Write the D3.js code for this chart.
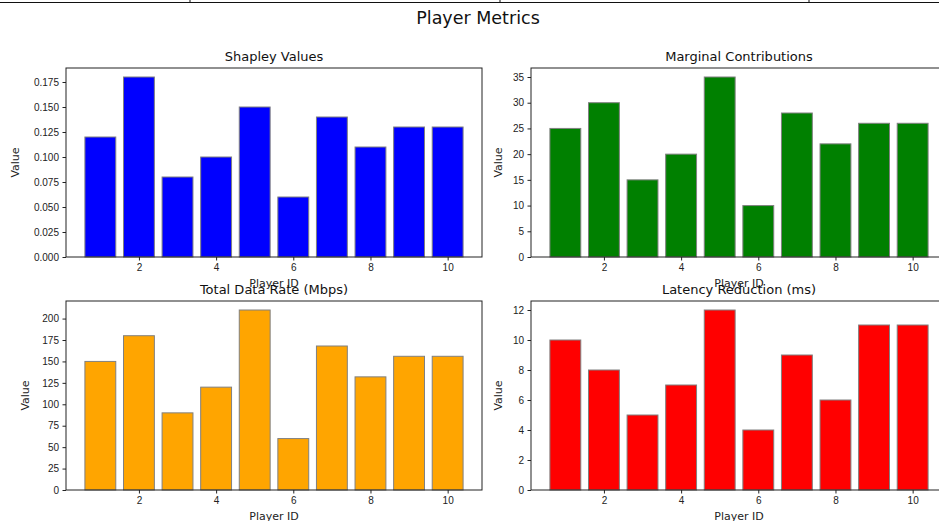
<!DOCTYPE html>
<html>
<head>
<meta charset="utf-8">
<script src="https://cdn.jsdelivr.net/npm/d3@7"></script>
<style>
  body { margin: 0; background: #fff; }
  svg { display: block; font-family: "DejaVu Sans", sans-serif; }
  .axis text { fill: #222; font-size: 10px; }
  .axis line, .axis path { stroke: #222; }
</style>
</head>
<body>
<div class="figure"></div>
<script>
// Player ids and the four series
var playerIds = [1, 2, 3, 4, 5, 6, 7, 8, 9, 10];
var shapleyValues = [0.12, 0.18, 0.08, 0.10, 0.15, 0.06, 0.14, 0.11, 0.13, 0.13];
var marginalContributions = [25, 30, 15, 20, 35, 10, 28, 22, 26, 26];
var totalDataRate = [150, 180, 90, 120, 210, 60, 168, 132, 156, 156];
var latencyReduction = [10, 8, 5, 7, 12, 4, 9, 6, 11, 11];

// tick labels
var xTicks = [2, 4, 6, 8, 10];
var shapleyTicks = [0, 0.025, 0.05, 0.075, 0.1, 0.125, 0.15, 0.175];
var marginalTicks = [0, 5, 10, 15, 20, 25, 30, 35];
var dataRateTicks = [0, 25, 50, 75, 100, 125, 150, 175, 200];
var latencyTicks = [0, 2, 4, 6, 8, 10, 12];

var titles = ["Shapley Values", "Marginal Contributions", "Total Data Rate (Mbps)", "Latency Reduction (ms)"];
var seriesList = [shapleyValues, marginalContributions, totalDataRate, latencyReduction];
var tickList = [shapleyTicks, marginalTicks, dataRateTicks, latencyTicks];
var colors = ["blue", "green", "orange", "red"];
var formats = [d3.format(".3f"), d3.format("d"), d3.format("d"), d3.format("d")];

// Define SVG area dimensions
var svgWidth = 939;
var svgHeight = 521;

var svg = d3.select(".figure")
  .append("svg")
  .attr("width", svgWidth)
  .attr("height", svgHeight);

// leftover edge of the figure above
svg.append("line")
  .attr("x1", 0).attr("x2", svgWidth)
  .attr("y1", 2.5).attr("y2", 2.5)
  .attr("stroke", "#111").attr("stroke-width", 1);
[190, 500, 809].forEach(function(x) {
  svg.append("line")
    .attr("x1", x).attr("x2", x)
    .attr("y1", 0).attr("y2", 2.5)
    .attr("stroke", "#111");
});

// figure title
svg.append("text")
  .attr("x", 478)
  .attr("y", 24)
  .attr("text-anchor", "middle")
  .attr("font-size", "17.5px")
  .attr("fill", "#111")
  .text("Player Metrics");

// subplot grid
var panelWidth = 416;
var panelHeight = 189;
var lefts = [66, 531];
var tops = [68, 301];
var valueLabelX = [[15, 498], [25, 498]];

// bars span 0.6..10.4, with 5% margin
var xScale = d3.scaleLinear()
  .domain([0.11, 10.89])
  .range([0, panelWidth]);

seriesList.forEach(function(values, i) {
  var row = Math.floor(i / 2);
  var col = i % 2;

  var chartGroup = svg.append("g")
    .attr("transform", `translate(${lefts[col]}, ${tops[row]})`);

  var yScale = d3.scaleLinear()
    .domain([0, d3.max(values) * 1.05])
    .range([panelHeight, 0]);

  // bars
  chartGroup.selectAll("rect")
    .data(values)
    .enter()
    .append("rect")
    .attr("x", (d, j) => xScale(playerIds[j] - 0.4))
    .attr("width", xScale(0.8) - xScale(0))
    .attr("y", d => yScale(d))
    .attr("height", d => yScale(0) - yScale(d))
    .attr("fill", colors[i])
    .attr("stroke", "grey")
    .attr("stroke-width", 1);

  // frame
  chartGroup.append("rect")
    .attr("width", panelWidth)
    .attr("height", panelHeight)
    .attr("fill", "none")
    .attr("stroke", "#222")
    .attr("stroke-width", 1);

  var leftAxis = d3.axisLeft(yScale)
    .tickValues(tickList[i])
    .tickFormat(formats[i])
    .tickSize(3.5)
    .tickPadding(3.5);
  var bottomAxis = d3.axisBottom(xScale)
    .tickValues(xTicks)
    .tickSize(3.5)
    .tickPadding(3.5);

  chartGroup.append("g")
    .classed("axis", true)
    .call(leftAxis)
    .call(g => g.select(".domain").remove());

  chartGroup.append("g")
    .classed("axis", true)
    .attr("transform", `translate(0, ${panelHeight})`)
    .call(bottomAxis)
    .call(g => g.select(".domain").remove());

  // subplot title
  chartGroup.append("text")
    .attr("x", panelWidth / 2)
    .attr("y", -7)
    .attr("text-anchor", "middle")
    .attr("font-size", "13px")
    .attr("fill", "#111")
    .text(titles[i]);

  // x label
  chartGroup.append("text")
    .attr("x", panelWidth / 2)
    .attr("y", panelHeight + 30)
    .attr("text-anchor", "middle")
    .attr("font-size", "11px")
    .attr("fill", "#222")
    .text("Player ID");

  // y label
  var vx = valueLabelX[row][col] - lefts[col];
  chartGroup.append("text")
    .attr("transform", `translate(${vx + 4}, ${panelHeight / 2}) rotate(-90)`)
    .attr("text-anchor", "middle")
    .attr("font-size", "11px")
    .attr("fill", "#222")
    .text("Value");
});
</script>
</body>
</html>
